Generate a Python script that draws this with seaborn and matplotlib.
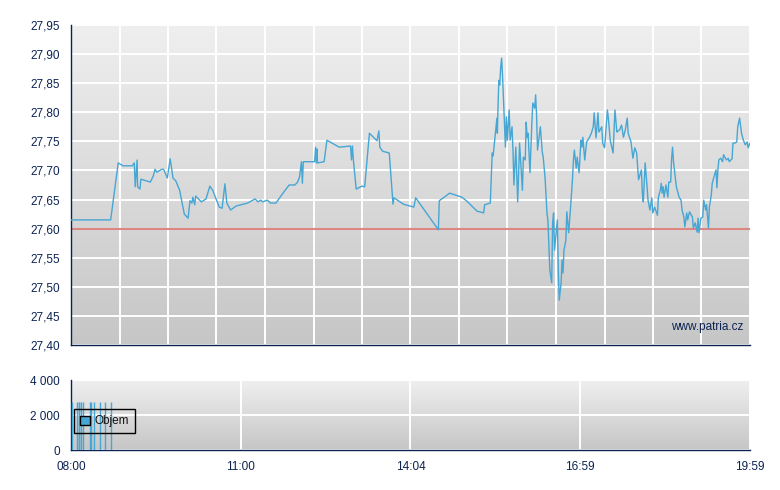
import numpy as np
import pandas as pd
import matplotlib
matplotlib.use("Agg")
import matplotlib.pyplot as plt
import seaborn as sns
from matplotlib.colors import LinearSegmentedColormap
from matplotlib.patches import Patch
from matplotlib.ticker import FuncFormatter

# Price data (minutes after 08:00, price in CZK)
am_times = [0, 42, 50, 55, 65, 67, 68, 70, 70.5, 73,
            74, 84, 87, 89, 91, 96, 98, 102, 105, 108,
            111, 115, 120, 124, 126, 128, 129, 131, 132, 138,
            143, 147, 150, 157, 160, 163, 165, 169, 175, 180,
            187, 195, 198, 201, 203, 208, 211, 217, 224, 231,
            237, 240, 242, 244, 245, 246, 258, 259, 260, 260.5,
            261, 268, 271, 284, 296, 297, 298, 299, 302, 308,
            311, 316, 324, 326, 327, 330, 337, 341, 342, 352,
            363, 365, 389, 390, 401, 414, 420, 430, 437, 438]
am_prices = [27.615, 27.615, 27.713, 27.708, 27.708, 27.713, 27.672, 27.718, 27.672, 27.668,
             27.685, 27.680, 27.690, 27.702, 27.697, 27.702, 27.702, 27.687, 27.720, 27.687,
             27.682, 27.666, 27.625, 27.618, 27.648, 27.644, 27.654, 27.641, 27.656, 27.646,
             27.651, 27.673, 27.666, 27.637, 27.635, 27.677, 27.644, 27.632, 27.639, 27.641,
             27.644, 27.651, 27.646, 27.649, 27.646, 27.649, 27.644, 27.644, 27.660, 27.675,
             27.675, 27.680, 27.689, 27.715, 27.678, 27.715, 27.715, 27.740, 27.713, 27.737,
             27.713, 27.715, 27.752, 27.740, 27.742, 27.718, 27.742, 27.718, 27.668, 27.673,
             27.672, 27.764, 27.751, 27.768, 27.740, 27.733, 27.730, 27.642, 27.653, 27.642,
             27.637, 27.653, 27.598, 27.648, 27.661, 27.654, 27.646, 27.630, 27.627, 27.641]

pm_times = [444, 446, 447, 451, 451.5, 452, 453, 454, 455, 456,
            457, 460, 461, 462, 464, 465, 467, 468, 469, 471,
            473, 475, 478, 479, 481, 482, 483, 484, 486, 488,
            489, 491, 492, 493, 494, 497, 499, 500, 502, 504,
            505, 507, 509, 510, 511, 512, 515, 516, 517, 519,
            520, 521, 522, 524, 525, 527, 529, 531, 532, 533,
            535, 536, 538, 540, 541, 542, 544, 546, 549, 551,
            553, 554, 556, 558, 559, 562, 563, 565, 568, 569,
            571, 574, 576, 578, 581, 583, 585, 587, 589, 590,
            593, 595, 597, 599, 601, 604, 605, 606, 607, 608,
            610, 611, 613, 615, 616, 618, 621, 622, 624, 625,
            626, 627, 628, 630, 632, 633, 635, 636, 637, 638,
            641, 642, 644, 646, 647, 649, 650, 652, 653, 655,
            658, 659, 661, 663, 664, 665, 667, 669, 670, 672,
            673, 675, 676, 678, 679, 681, 683, 684, 685, 686,
            688, 690, 691, 694, 696, 697, 700, 701, 703, 705,
            706, 708, 710, 712, 714, 716, 717, 719]
pm_prices = [27.644, 27.730, 27.725, 27.790, 27.764, 27.799, 27.855, 27.847, 27.878, 27.893,
             27.861, 27.740, 27.792, 27.752, 27.804, 27.752, 27.775, 27.735, 27.675, 27.740,
             27.646, 27.747, 27.666, 27.723, 27.718, 27.783, 27.757, 27.764, 27.696, 27.782,
             27.816, 27.807, 27.830, 27.795, 27.735, 27.775, 27.732, 27.723, 27.687, 27.627,
             27.615, 27.529, 27.507, 27.610, 27.627, 27.563, 27.615, 27.529, 27.477, 27.507,
             27.546, 27.524, 27.563, 27.580, 27.629, 27.593, 27.637, 27.684, 27.718, 27.735,
             27.704, 27.723, 27.696, 27.752, 27.740, 27.757, 27.718, 27.749, 27.757, 27.764,
             27.775, 27.799, 27.756, 27.799, 27.766, 27.775, 27.747, 27.739, 27.804, 27.790,
             27.752, 27.730, 27.804, 27.766, 27.770, 27.778, 27.757, 27.770, 27.790, 27.764,
             27.749, 27.721, 27.739, 27.730, 27.684, 27.701, 27.661, 27.646, 27.678, 27.713,
             27.672, 27.649, 27.632, 27.653, 27.627, 27.637, 27.623, 27.654, 27.666, 27.678,
             27.661, 27.672, 27.654, 27.675, 27.654, 27.680, 27.680, 27.721, 27.740, 27.715,
             27.672, 27.666, 27.654, 27.649, 27.632, 27.620, 27.603, 27.627, 27.615, 27.629,
             27.620, 27.601, 27.610, 27.594, 27.618, 27.593, 27.618, 27.620, 27.649, 27.632,
             27.641, 27.601, 27.637, 27.658, 27.678, 27.690, 27.701, 27.670, 27.701, 27.718,
             27.721, 27.715, 27.727, 27.718, 27.721, 27.715, 27.720, 27.747, 27.747, 27.749,
             27.775, 27.790, 27.764, 27.752, 27.744, 27.749, 27.739, 27.747]

prev_close = 27.60

# Volume data
vol_times = [1.4, 6.0, 8.2, 8.8, 10.9, 13.0, 20.4, 21.5, 24.7, 30.7, 36.3, 42.4]
vol_values = [2730, 2730, 2730, 2730, 2730, 2730, 2730, 2730, 2730, 2730, 2730, 2730]

x_labels = ["08:00", "11:00", "14:04", "16:59", "19:59"]
y_price_ticks = [27.40, 27.45, 27.50, 27.55, 27.60, 27.65, 27.70, 27.75, 27.80, 27.85, 27.90, 27.95]
y_vol_ticks = [0, 2000, 4000]

df = pd.DataFrame({"t": am_times + pm_times, "price": am_prices + pm_prices})

sns.set_style("white")
plt.rcParams["font.family"] = ["Liberation Sans", "DejaVu Sans"]

navy = "#0c2352"
blue = "#46a6d4"
grad_cmap = LinearSegmentedColormap.from_list("bg", ["#c6c6c6", "#efefef"])
grad = np.linspace(0, 1, 256).reshape(-1, 1)

fig = plt.figure(figsize=(7.8, 4.9), dpi=100)
ax = fig.add_axes([71 / 780, 1 - 345 / 490, 679 / 780, 320 / 490])
ax2 = fig.add_axes([71 / 780, 1 - 450 / 490, 679 / 780, 70 / 490])

t_end = 719


def style_axes(a):
    a.imshow(grad, extent=[0, 1, 0, 1], transform=a.transAxes, aspect="auto",
             cmap=grad_cmap, origin="lower", zorder=-1)
    for s in ["top", "right"]:
        a.spines[s].set_visible(False)
    for s in ["left", "bottom"]:
        a.spines[s].set_color(navy)
        a.spines[s].set_linewidth(1.0)
    a.set_axisbelow(True)
    a.grid(True, color="white", linewidth=1.4)
    a.tick_params(direction="out", length=5, width=1, color=navy, labelcolor=navy,
                  labelsize=8.5, pad=3)
    a.set_xlabel("")
    a.set_ylabel("")


# Price chart
style_axes(ax)
ax.axhline(prev_close, color="#d8736d", linewidth=1.5, alpha=0.85, zorder=2)
sns.lineplot(data=df, x="t", y="price", ax=ax, sort=False, estimator=None,
             color=blue, linewidth=1.0, zorder=3)
ax.set_xlim(0, t_end)
ax.set_ylim(27.40, 27.95)
ax.set_xticks(np.linspace(0, t_end, 15))
ax.set_xticklabels([])
ax.set_yticks(y_price_ticks)
ax.yaxis.set_major_formatter(FuncFormatter(lambda v, p: f"{v:.2f}".replace(".", ",")))
ax.set_xlabel("")
ax.set_ylabel("")
ax.text(0.99, 0.055, "www.patria.cz", transform=ax.transAxes, ha="right", va="center",
        color=navy, fontsize=8.5)

# Volume chart
style_axes(ax2)
ax2.vlines(vol_times, 0, vol_values, color=blue, linewidth=1.0, zorder=3)
ax2.set_xlim(0, t_end)
ax2.set_ylim(0, 4000)
ax2.set_xticks(np.linspace(0, t_end, 5))
ax2.set_xticklabels(x_labels)
ax2.set_yticks(y_vol_ticks)
ax2.yaxis.set_major_formatter(FuncFormatter(lambda v, p: f"{int(v):,}".replace(",", " ")))
leg = ax2.legend(handles=[Patch(facecolor=blue, edgecolor="black", label="Objem")],
                 loc="lower left", bbox_to_anchor=(0.005, 0.24), fontsize=8.5,
                 frameon=True, fancybox=False, facecolor="none", edgecolor="black",
                 framealpha=1, handlelength=0.8, handleheight=0.8, handletextpad=0.4,
                 borderpad=0.5, borderaxespad=0)
leg.get_frame().set_linewidth(1.0)
for txt in leg.get_texts():
    txt.set_color("#111111")

fig.savefig("out.png", dpi=100)
